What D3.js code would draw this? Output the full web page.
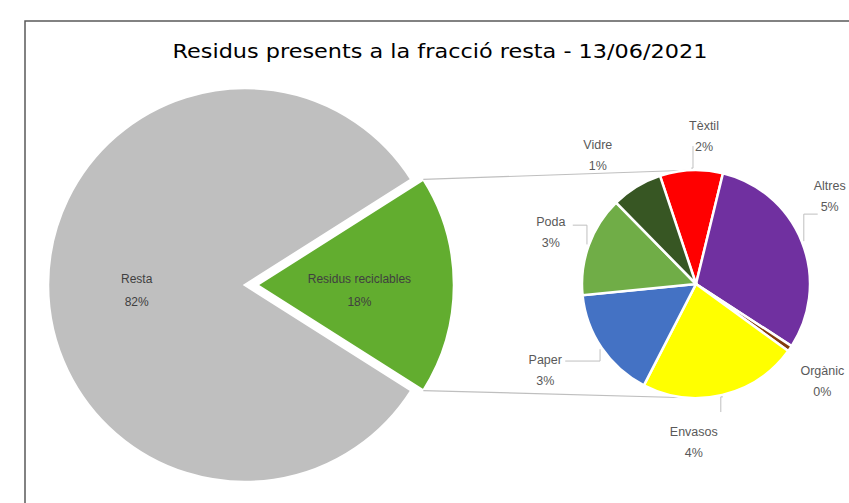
<!DOCTYPE html>
<html>
<head>
<meta charset="utf-8">
<script src="https://cdn.jsdelivr.net/npm/d3@7"></script>
<style>
  html, body { margin: 0; padding: 0; background: #fff; }
  svg { display: block; }
</style>
</head>
<body>
<svg id="chart" width="849" height="503"></svg>
<script>
// data (percent of the whole "resta" bag)
var title = 'Residus presents a la fracció resta - 13/06/2021';
var mainCats = ['Resta', 'Residus reciclables'];
var mainVals = [82, 18];
var subCats = ['Tèxtil', 'Altres', 'Orgànic', 'Envasos', 'Paper', 'Poda', 'Vidre'];
var subVals = [1.6, 5.45, 0.15, 4.05, 2.85, 2.55, 1.3];

var mainColors = ['#bfbfbf', '#62ad2f'];
var subColors = ['#ff0000', '#7030a0', '#843c0c', '#ffff00', '#4472c4', '#70ad47', '#375623'];

/**************************************************************************************/

var svg = d3.select('#chart');
var width = +svg.attr('width'), height = +svg.attr('height');
var pct = d3.format('.0%');
var deg = Math.PI/180;
var labelFont = 'Liberation Sans, Arial, sans-serif';

// frame
svg.append('path')
   .attr('d', 'M 25 ' + height + ' L 25 21 L ' + width + ' 21')
   .attr('fill', 'none').attr('stroke', '#595959').attr('stroke-width', 1.5);

svg.append('text')
   .attr('x', 440).attr('y', 58)
   .attr('text-anchor', 'middle')
   .attr('textLength', 535).attr('lengthAdjust', 'spacingAndGlyphs')
   .style('font-family', 'DejaVu Sans, sans-serif').style('font-size', '20px')
   .attr('fill', '#000')
   .text(title);

// main pie ---------------------------------------------------------------
var c1 = { x: 245, y: 285, r: 197 };
var mainTotal = d3.sum(mainVals);
var splitShare = mainVals[1]/mainTotal;
var mainPie = d3.pie().sort(null).value(function(d){ return d; })
    .startAngle(Math.PI/2 + splitShare*Math.PI)
    .endAngle(Math.PI/2 + splitShare*Math.PI + 2*Math.PI);
var mainArcs = mainPie(mainVals);
var arc1 = d3.arc().innerRadius(0).outerRadius(c1.r);
var explode = 12;

var g1 = svg.append('g');
mainArcs.forEach(function(a, i){
    var dx = i == 1 ? explode : 0;
    var g = g1.append('g').attr('transform', 'translate(' + (c1.x + dx) + ',' + c1.y + ')');
    g.append('path').attr('d', arc1(a))
     .attr('fill', mainColors[i]).attr('stroke', '#fff').attr('stroke-width', 2.5);
});

// label positions inside the main pie
var mainLabelR = [0.55, 0.52];
mainArcs.forEach(function(a, i){
    var mid = (a.startAngle + a.endAngle)/2;
    var dx = i == 1 ? explode : 0;
    var x = c1.x + dx + Math.sin(mid)*c1.r*mainLabelR[i];
    var y = c1.y - Math.cos(mid)*c1.r*mainLabelR[i];
    var t = svg.append('text').attr('text-anchor', 'middle')
        .style('font-family', labelFont).style('font-size', '12px')
        .attr('fill', '#404040');
    t.append('tspan').attr('x', x).attr('y', y - 2).text(mainCats[i]);
    t.append('tspan').attr('x', x).attr('y', y + 21).text(pct(mainVals[i]/mainTotal));
});

// secondary pie ----------------------------------------------------------
var c2 = { x: 696, y: 284, r: 114 };
var subPie = d3.pie().sort(null).value(function(d){ return d; })
    .startAngle(-18.4*deg).endAngle(-18.4*deg + 2*Math.PI);
var subArcs = subPie(subVals);
var arc2 = d3.arc().innerRadius(0).outerRadius(c2.r);

// connector lines from the split slice to the second pie
var a1 = mainArcs[1];
var conn = [
    [c1.x + explode + Math.sin(a1.startAngle)*c1.r, c1.y - Math.cos(a1.startAngle)*c1.r, c2.x, c2.y - c2.r],
    [c1.x + explode + Math.sin(a1.endAngle)*c1.r, c1.y - Math.cos(a1.endAngle)*c1.r, c2.x, c2.y + c2.r]
];
svg.selectAll('line.conn').data(conn).enter().append('line').attr('class', 'conn')
   .attr('x1', function(d){ return d[0]; }).attr('y1', function(d){ return d[1]; })
   .attr('x2', function(d){ return d[2]; }).attr('y2', function(d){ return d[3]; })
   .attr('stroke', '#bfbfbf').attr('stroke-width', 1.2);

var g2 = svg.append('g').attr('transform', 'translate(' + c2.x + ',' + c2.y + ')');
g2.selectAll('path').data(subArcs).enter().append('path')
  .attr('d', arc2)
  .attr('fill', function(d, i){ return subColors[i]; })
  .attr('stroke', '#fff').attr('stroke-width', 2.5);

// outside labels: radius + small nudges (like manual label moves)
var labR = c2.r + 32;
var nudge = [[14, -4], [-2, -36], [6, 12], [-36, 14], [-30, 2], [-8, -4], [-22, -6]];
// leader line: [from label dx, dy] for the labels that have one, null otherwise
var leader = [[-11, 12], [-12, 20], null, [27, -28], [20, -7], [22, -5], null];
subArcs.forEach(function(a, i){
    var mid = (a.startAngle + a.endAngle)/2;
    var x = c2.x + Math.sin(mid)*labR + nudge[i][0];
    var y = c2.y - Math.cos(mid)*labR + nudge[i][1];
    if(leader[i]){
        var ex = c2.x + Math.sin(mid)*(c2.r + 2), ey = c2.y - Math.cos(mid)*(c2.r + 2);
        var sx = x + leader[i][0], sy = y + leader[i][1];
        svg.append('path')
           .attr('d', 'M ' + sx + ' ' + sy + ' L ' + (i == 0 || i == 3 ? sx : ex) + ' ' + (i == 0 || i == 3 ? ey : sy) + ' L ' + ex + ' ' + ey)
           .attr('fill', 'none').attr('stroke', '#bfbfbf').attr('stroke-width', 1);
    }
    var t = svg.append('text').attr('text-anchor', 'middle')
        .style('font-family', labelFont).style('font-size', '12.5px')
        .attr('fill', '#595959');
    t.append('tspan').attr('x', x).attr('y', y - 4).text(subCats[i]);
    t.append('tspan').attr('x', x).attr('y', y + 17).text(pct(subVals[i]/100));
});
</script>
</body>
</html>
